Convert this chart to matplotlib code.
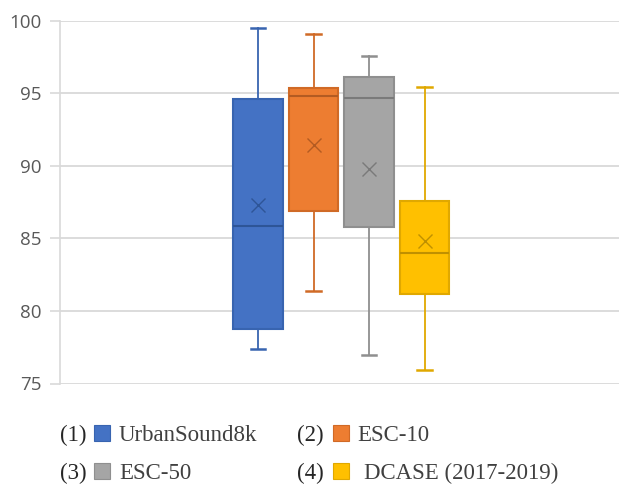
import matplotlib
matplotlib.use("Agg")
import matplotlib.pyplot as plt
from matplotlib.patches import Rectangle

# ---- data ----
labels = ["UrbanSound8k", "ESC-10", "ESC-50", "DCASE (2017-2019)"]
numbers = ["(1)", "(2)", "(3)", "(4)"]
whislo = [77.35, 81.35, 76.95, 75.93]
q1 = [78.75, 86.9, 85.75, 81.2]
med = [85.85, 94.8, 94.65, 84.0]
q3 = [94.6, 95.35, 96.1, 87.6]
whishi = [99.5, 99.05, 97.6, 95.4]
means = [87.3, 91.45, 89.75, 84.85]
yticks = [75, 80, 85, 90, 95, 100]

colors = ["#4472C4", "#ED7D31", "#A5A5A5", "#FFC000"]
edges = ["#3864B0", "#D06A26", "#8F8F8F", "#E0A800"]
darks = ["#2E5597", "#B35B22", "#7A7A7A", "#BF9000"]

fig = plt.figure(figsize=(6.19, 4.84), dpi=100)
ax = fig.add_axes([60/619, 1-383.5/484, 1-60/619, (383.5-20.7)/484])

stats = []
for i in range(4):
    stats.append(dict(label=labels[i], whislo=whislo[i], q1=q1[i], med=med[i],
                      q3=q3[i], whishi=whishi[i], mean=means[i], fliers=[]))

positions = [1, 2, 3, 4]
bp = ax.bxp(stats, positions=positions, widths=0.9, patch_artist=True,
            showmeans=False, showfliers=False, capwidths=0.26)
for i in range(4):
    b = bp["boxes"][i]
    b.set_facecolor(colors[i]); b.set_edgecolor(edges[i]); b.set_linewidth(1.5)
    b.set_zorder(3)
    bp["medians"][i].set_color(darks[i]); bp["medians"][i].set_linewidth(1.5)
    bp["medians"][i].set_zorder(4)
    for w in bp["whiskers"][2*i:2*i+2]:
        w.set_color(edges[i]); w.set_linewidth(1.3)
    for c in bp["caps"][2*i:2*i+2]:
        c.set_color(edges[i]); c.set_linewidth(1.8)
    ax.plot(positions[i], means[i], marker="x", markersize=9.5, color=darks[i],
            markeredgewidth=1.0, zorder=5, linestyle="none")

ax.set_xlim(1 - 198/55.5, 1 + 361/55.5)
ax.set_ylim(75, 100)
ax.set_yticks(yticks)
ax.set_yticklabels([str(t) for t in yticks], fontfamily="Open Sans", fontsize=13.5,
                   color="#595959")
ax.set_xticks([])
ax.grid(axis="y", color="#D9D9D9", linewidth=1.3, zorder=0)
ax.set_axisbelow(True)
for s in ["top", "right", "bottom"]:
    ax.spines[s].set_visible(False)
ax.spines["left"].set_color("#D9D9D9")
ax.spines["left"].set_linewidth(1.2)
ax.tick_params(axis="y", length=7, color="#D9D9D9", width=1.2, pad=6)

# ---- legend (text below) ----
# (number x, baseline y, index, square x, text x, square top y)
leg = [
    (60, 441, 0, 94, 119, 425),
    (297, 441, 1, 333, 357, 425),
    (60, 479, 2, 94, 119, 463),
    (297, 479, 3, 333, 364, 463),
]
for nx, by, idx, sx, tx, sy in leg:
    fig.text(nx/619, 1-by/484, numbers[idx], fontfamily="Liberation Serif",
             fontsize=16.5, color="#262626", va="baseline", ha="left")
    fig.patches.append(Rectangle((sx/619, 1-(sy+16)/484), 16/619, 16/484,
                                 transform=fig.transFigure, facecolor=colors[idx],
                                 edgecolor=edges[idx], linewidth=0.8))
    fig.text(tx/619, 1-by/484, labels[idx], fontfamily="Liberation Serif",
             fontsize=16.5, color="#404040", va="baseline", ha="left")

fig.savefig("out.png", dpi=100)
